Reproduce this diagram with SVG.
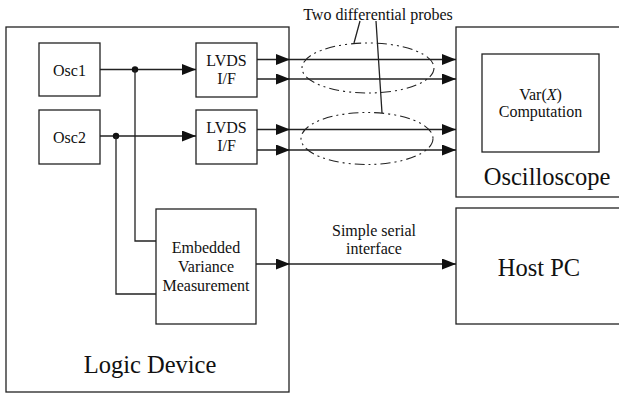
<svg xmlns="http://www.w3.org/2000/svg" width="619" height="395" viewBox="0 0 619 395" font-family="'Liberation Serif', 'DejaVu Serif', serif">
<style>
.box{fill:#fff;stroke:#222;stroke-width:1.3}
.ln{fill:none;stroke:#222;stroke-width:1.3}
.arr{fill:none;stroke:#222;stroke-width:1.3;marker-end:url(#ah)}
.probe{fill:none;stroke:#222;stroke-width:1.1;stroke-dasharray:10 4 2 4 2 4}
text{fill:#111;text-anchor:middle}
.s{font-size:16px}
.l{font-size:24.5px}
</style>
<defs>
<marker id="ah" markerUnits="userSpaceOnUse" markerWidth="14" markerHeight="11" refX="14" refY="5.5" orient="auto">
<path d="M0,0 L14,5.5 L0,11 z" fill="#111"/>
</marker>
</defs>
<g id="logic-device">
<rect class="box" x="6" y="27" width="283" height="365"/>
<text class="l" x="150" y="373">Logic Device</text>
</g>
<g id="oscilloscope">
<rect class="box" x="456" y="27" width="175" height="170"/>
<text class="l" x="547" y="185">Oscilloscope</text>
</g>
<g id="var-computation">
<rect class="box" x="482" y="54" width="117" height="98"/>
<text class="s" x="540.5" y="100">Var(<tspan font-style="italic">X</tspan>)</text>
<text class="s" x="540.5" y="117">Computation</text>
</g>
<g id="host-pc">
<rect class="box" x="456" y="208" width="175" height="116"/>
<text class="l" x="539" y="276">Host PC</text>
</g>
<g id="osc1">
<rect class="box" x="39" y="43" width="61" height="53"/>
<text class="s" x="69.5" y="76">Osc1</text>
</g>
<g id="osc2">
<rect class="box" x="39" y="110" width="61" height="54"/>
<text class="s" x="69.5" y="143">Osc2</text>
</g>
<g id="lvds1">
<rect class="box" x="196" y="43" width="61" height="54"/>
<text class="s" x="226.5" y="66">LVDS</text>
<text class="s" x="226.5" y="84">I/F</text>
</g>
<g id="lvds2">
<rect class="box" x="196" y="110" width="61" height="54"/>
<text class="s" x="226.5" y="133">LVDS</text>
<text class="s" x="226.5" y="151">I/F</text>
</g>
<g id="embedded">
<rect class="box" x="156" y="209" width="100" height="115"/>
<text class="s" x="206" y="253">Embedded</text>
<text class="s" x="206" y="272">Variance</text>
<text class="s" x="206" y="291">Measurement</text>
</g>
<g id="connectors">
<path class="arr" d="M100,69.5 H196"/>
<path class="arr" d="M100,136 H196"/>
<circle cx="135" cy="69.5" r="3.2" fill="#111"/>
<circle cx="116" cy="136" r="3.2" fill="#111"/>
<path class="ln" d="M135,69.5 V241 H156"/>
<path class="ln" d="M116,136 V294 H156"/>
<path class="arr" d="M257,59.5 H290"/>
<path class="arr" d="M257,79 H290"/>
<path class="arr" d="M257,129.5 H290"/>
<path class="arr" d="M257,150 H290"/>
<path class="arr" d="M290,59.5 H456"/>
<path class="arr" d="M290,79 H456"/>
<path class="arr" d="M290,129.5 H456"/>
<path class="arr" d="M290,150 H456"/>
<path class="arr" d="M256,264 H290"/>
<path class="arr" d="M290,264 H456"/>
<text class="s" x="374" y="236">Simple serial</text>
<text class="s" x="374" y="254">interface</text>
</g>
<g id="probes">
<ellipse class="probe" cx="368" cy="68" rx="66" ry="25"/>
<ellipse class="probe" cx="367" cy="138.5" rx="66" ry="26"/>
<path class="ln" d="M360,21 L354,43 M376,21 L382,113"/>
<text class="s" x="378" y="19.5">Two differential probes</text>
</g>
</svg>
